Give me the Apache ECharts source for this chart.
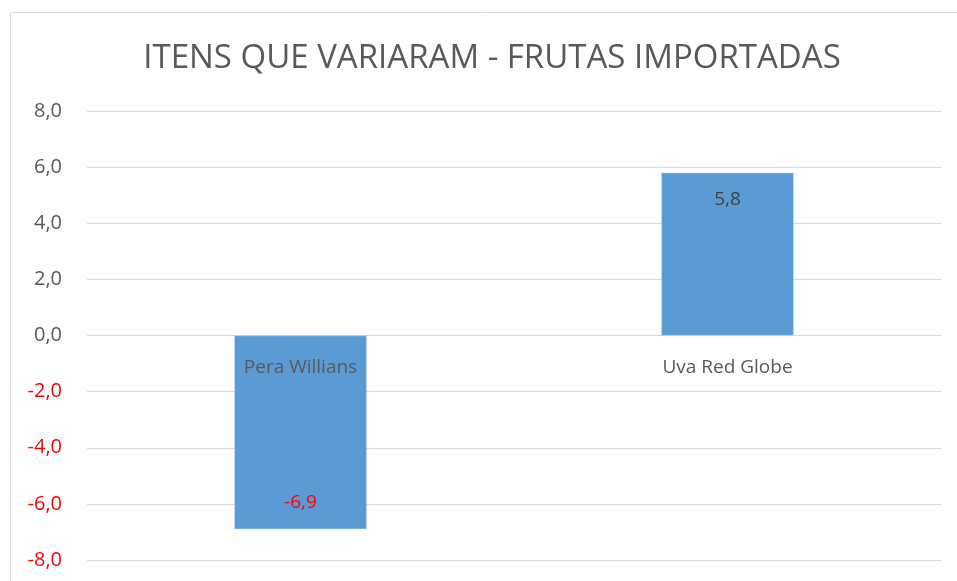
<!DOCTYPE html>
<html>
<head>
<meta charset="utf-8">
<title>Itens que variaram</title>
<script src="https://cdn.jsdelivr.net/npm/echarts@6/dist/echarts.min.js"></script>
<style>
  html, body { margin: 0; padding: 0; background: #fff; }
  #chart { width: 957px; height: 581px; }
</style>
</head>
<body>
<div id="chart"></div>
<script>
// dados
var categorias = ['Pera Willians', 'Uva Red Globe'];
var variacao = [-6.9, 5.8];
var eixoMin = -8, eixoMax = 8, eixoPasso = 2;

function fmt(v) {
    return v.toFixed(1).replace('.', ',');
}

var fonte = '"Open Sans", "Noto Sans", sans-serif';
var chart = echarts.init(document.getElementById('chart'));

var option = {
    animation: false,
    title: {
        text: 'ITENS QUE VARIARAM - FRUTAS IMPORTADAS',
        left: 487,
        top: 37,
        textAlign: 'center',
        textStyle: { fontFamily: fonte, fontSize: 33, fontWeight: 'normal', color: '#595959' }
    },
    graphic: [{
        type: 'rect',
        shape: { x: 10.5, y: 12.5, width: 1000, height: 700 },
        style: { fill: 'none', stroke: '#d9d9d9', lineWidth: 1 },
        silent: true
    }],
    grid: { left: 87, right: 16, top: 111, bottom: 21, outerBoundsMode: 'none', containLabel: false },
    xAxis: {
        type: 'category',
        data: categorias,
        offset: -224.5,
        axisLine: { show: false },
        axisTick: { show: false },
        axisLabel: {
            margin: 23,
            fontFamily: fonte,
            fontSize: 19,
            color: '#595959'
        },
        z: 10
    },
    yAxis: {
        type: 'value',
        min: eixoMin,
        max: eixoMax,
        interval: eixoPasso,
        axisLine: { show: false },
        axisTick: { show: false },
        splitLine: { lineStyle: { color: '#d9d9d9', width: 1 } },
        axisLabel: {
            margin: 25,
            fontFamily: fonte,
            fontSize: 20,
            formatter: function (v) { return fmt(v); },
            color: function (v) { return Number(v) < 0 ? '#ff0000' : '#595959'; }
        }
    },
    series: [{
        type: 'bar',
        barWidth: '31%',
        data: variacao.map(function (v) {
            return {
                value: v,
                label: {
                    position: v < 0 ? 'insideBottom' : 'insideTop',
                    distance: 17,
                    color: v < 0 ? '#ff0000' : '#404040'
                }
            };
        }),
        itemStyle: { color: '#5b9bd5', borderColor: '#c5dbef', borderWidth: 0.5 },
        label: {
            show: true,
            fontFamily: fonte,
            fontSize: 19,
            formatter: function (p) { return fmt(p.value); }
        }
    }]
};

chart.setOption(option);
</script>
</body>
</html>
